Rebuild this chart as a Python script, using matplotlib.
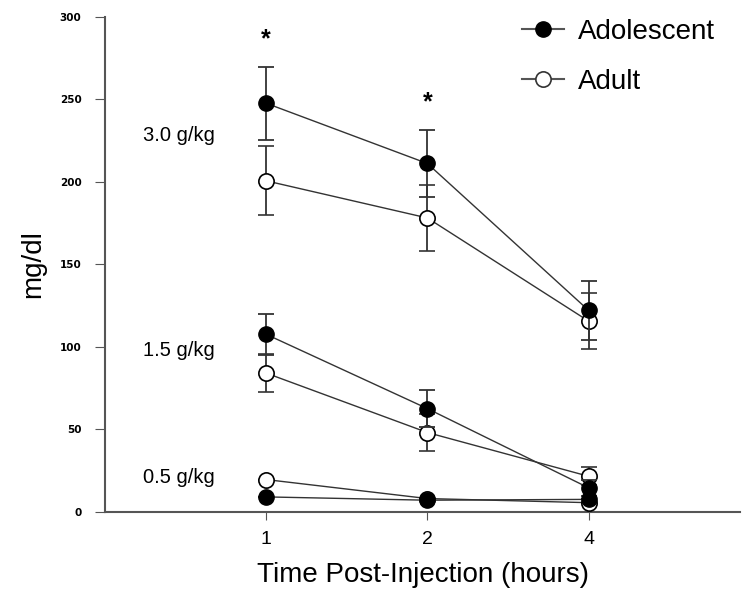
import matplotlib
matplotlib.use('Agg')
import matplotlib.pyplot as plt
from matplotlib.lines import Line2D

plt.rcParams['font.family'] = ['Liberation Sans', 'DejaVu Sans']

hours = ['1', '2', '4']

# 3.0 g/kg
ado_30 = [247.5, 211, 122]
ado_30_err = [22, 20, 18]
adu_30 = [200.5, 178, 115.5]
adu_30_err = [21, 20, 17]
# 1.5 g/kg
ado_15 = [107.5, 62.5, 14.5]
ado_15_err = [12.5, 11, 5]
adu_15 = [84, 48, 21.5]
adu_15_err = [11.5, 11, 5.5]
# 0.5 g/kg
ado_05 = [9, 7, 7.5]
ado_05_err = [0, 0, 0]
adu_05 = [19.5, 8, 5.5]
adu_05_err = [0, 0, 0]

dose_labels = ['3.0 g/kg', '1.5 g/kg', '0.5 g/kg']
dose_label_y = [228, 98, 20.5]
star_hours = [0, 1]
star_y = [286, 248]

x = [1, 2, 3]

fig = plt.figure(figsize=(7.42, 5.93), dpi=100)
ax = fig.add_axes([0.1415, 0.137, 0.856, 0.835])

groups = [(ado_30, ado_30_err, adu_30, adu_30_err),
          (ado_15, ado_15_err, adu_15, adu_15_err),
          (ado_05, ado_05_err, adu_05, adu_05_err)]

for a, ae, b, be in groups:
    ax.errorbar(x, b, yerr=be, color='#333333', lw=1, marker='o', ms=11,
                mfc='white', mec='black', mew=1.2, capsize=6, elinewidth=1.3,
                capthick=1.3, zorder=3)
    ax.errorbar(x, a, yerr=ae, color='#333333', lw=1, marker='o', ms=11,
                mfc='black', mec='black', capsize=6, elinewidth=1.3,
                capthick=1.3, zorder=4)

for lab, yy in zip(dose_labels, dose_label_y):
    ax.text(0.235, yy, lab, fontsize=14.5, va='center', ha='left')

for h, yy in zip(star_hours, star_y):
    ax.text(x[h], yy, '*', fontsize=18, ha='center', va='center',
            fontweight='bold')

ax.set_xlim(0, 3.94)
ax.set_ylim(0, 300)
ax.set_xticks(x)
ax.set_xticklabels(hours, fontsize=14)
ax.set_yticks([0, 50, 100, 150, 200, 250, 300])
ax.tick_params(axis='y', labelsize=7.5, direction='out', length=7,
               color='#555555', pad=10)
ax.tick_params(axis='x', direction='out', length=6, color='#555555', pad=8)
for lbl in ax.get_yticklabels():
    lbl.set_fontweight('bold')
    lbl.set_family('DejaVu Sans')

ax.spines['top'].set_visible(False)
ax.spines['right'].set_visible(False)
ax.spines['left'].set_color('#555555')
ax.spines['bottom'].set_color('#555555')
ax.spines['left'].set_linewidth(1.5)
ax.spines['bottom'].set_linewidth(1.5)

ax.set_ylabel('mg/dl', fontsize=20, labelpad=10)
ax.set_xlabel('Time Post-Injection (hours)', fontsize=20, labelpad=10)

handles = [Line2D([], [], color='#555555', lw=1.5, marker='o', ms=11,
                  mfc='black', mec='black'),
           Line2D([], [], color='#555555', lw=1.5, marker='o', ms=11,
                  mfc='white', mec='#333333', mew=1.2)]
ax.legend(handles, ['Adolescent', 'Adult'], loc='upper left',
          bbox_to_anchor=(522 / 742, 1 - 19 / 593),
          bbox_transform=fig.transFigure, borderaxespad=0, borderpad=0,
          frameon=False, fontsize=20, handlelength=1.5,
          labelspacing=0.85, handletextpad=0.5)

fig.savefig('out.png', dpi=100)
